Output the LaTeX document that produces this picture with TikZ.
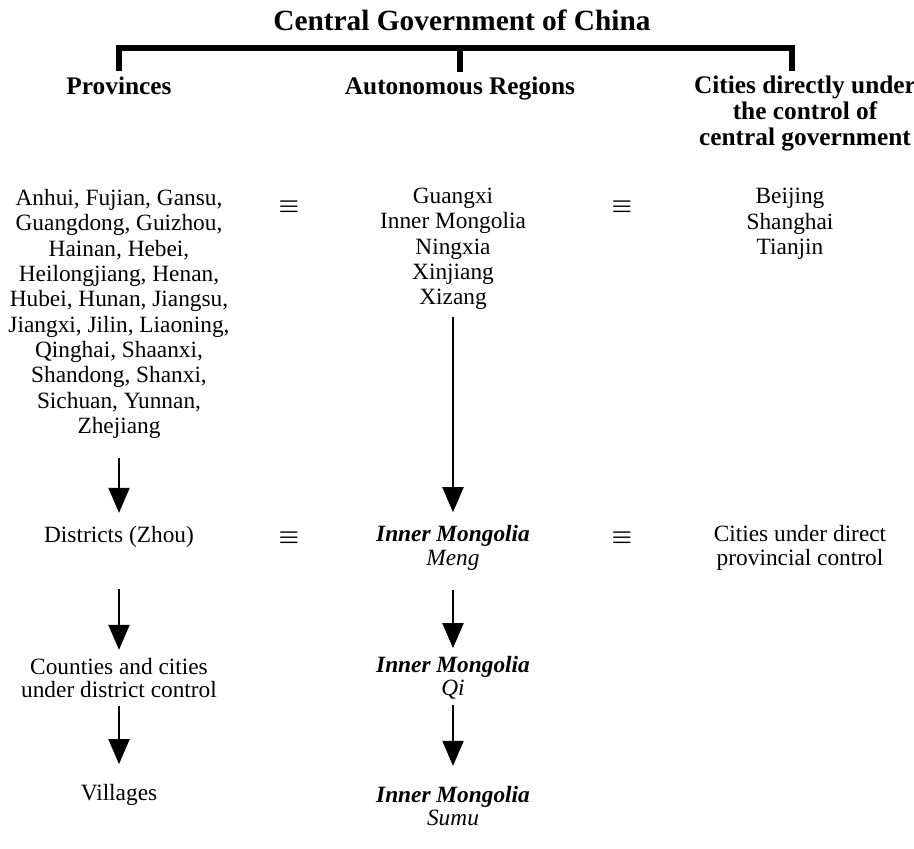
\documentclass[tikz,border=0pt]{standalone}
\usepackage{fontspec}
\setmainfont{Liberation Serif}
\usetikzlibrary{arrows.meta}

\begin{document}
\begin{tikzpicture}[x=0.75pt, y=-0.75pt]
	\tikzstyle{every node} = [align=center, inner sep=2pt, font=\fontsize{17.5}{17.5}\selectfont]
	\tikzstyle{list} = [font=\fontsize{17.5}{19}\selectfont]
	\tikzstyle{head} = [font=\bfseries\fontsize{19}{19.5}\selectfont]
	\tikzstyle{eqsign} = [font=\fontsize{18}{18}\selectfont\boldmath]
	\tikzstyle{bracket} = [line width=4pt]
	\tikzstyle{down} = [line width=1.5pt, -{Triangle[width=15.75pt, length=18.75pt]}, shorten <=12pt, shorten >=8pt]
	\useasboundingbox (0,0) rectangle (914,849);
	% top level
	\node (Govt) at (462,20) {\bfseries\fontsize{22}{22}\selectfont Central Government of China};
	\node[head, anchor=base] (ProvHead) at (119,94) {Provinces};
	\node[head, anchor=base] (AutoHead) at (460,94) {Autonomous Regions};
	\node[head] (CityHead) at (805,114) {Cities directly under\\ the control of\\ central government};
	\coordinate (ProvLeg) at (119,71);
	\coordinate (AutoLeg) at (460,72);
	\coordinate (CityLeg) at (792,71);
	\coordinate (AutoJoin) at (460,48);
	\draw[bracket] (ProvLeg) |- (AutoJoin) -| (CityLeg);
	\draw[bracket] (AutoJoin) -- (AutoLeg);
	% first level
	\node[list] (ProvList) at (119,314) {Anhui, Fujian, Gansu,\\ Guangdong, Guizhou,\\ Hainan, Hebei,\\ Heilongjiang, Henan,\\ Hubei, Hunan, Jiangsu,\\ Jiangxi, Jilin, Liaoning,\\ Qinghai, Shaanxi,\\ Shandong, Shanxi,\\ Sichuan, Yunnan,\\ Zhejiang};
	\node[list] (AutoList) at (453,249) {Guangxi\\ Inner Mongolia\\ Ningxia\\ Xinjiang\\ Xizang};
	\node[list] (CityList) at (790,224) {Beijing\\ Shanghai\\ Tianjin};
	\node[eqsign] (EqA) at (289,207) {$\equiv$};
	\node[eqsign] (EqB) at (622,207) {$\equiv$};
	% second level
	\node (Zhou) at (119,537) {Districts (Zhou)};
	\node (Meng) at (453,548) {\textbf{\textit{Inner Mongolia}}\\ \textit{Meng}};
	\node (ProvCity) at (800,548) {Cities under direct\\ provincial control};
	\node[eqsign] (EqC) at (289,538) {$\equiv$};
	\node[eqsign] (EqD) at (622,538) {$\equiv$};
	% third level
	\node (County) at (119,678) {Counties and cities\\ under district control};
	\node (Qi) at (453,678) {\textbf{\textit{Inner Mongolia}}\\ \textit{Qi}};
	% fourth level
	\node (Village) at (119,795) {Villages};
	\node (Sumu) at (453,806) {\textbf{\textit{Inner Mongolia}}\\ \textit{Sumu}};
	% arrows
	\draw[down] (ProvList) -- (Zhou);
	\draw[down, shorten <=29pt, shorten >=4pt] (Zhou) -- (County);
	\draw[down, shorten <=4pt, shorten >=13pt] (County) -- (Village);
	\draw[down, shorten <=3pt] (AutoList) -- (Meng);
	\draw[down, shorten <=12.5pt, shorten >=4pt] (Meng) -- (Qi);
	\draw[down, shorten <=2pt, shorten >=13pt] (Qi) -- (Sumu);
\end{tikzpicture}
\end{document}
